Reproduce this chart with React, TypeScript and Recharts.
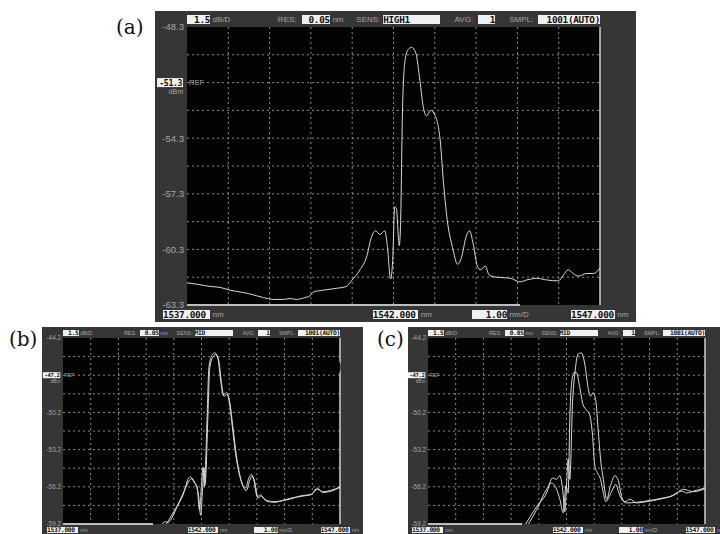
import React from "react";
import { LineChart, Line, XAxis, YAxis, CartesianGrid, ReferenceLine } from "recharts";

// (a) single sweep, SENS HIGH1
const nmA = [
  1537.0, 1537.3, 1537.56, 1537.8, 1538.04, 1538.3, 1538.52, 1538.85, 1539.1, 1539.33, 1539.5, 1539.65,
  1539.85, 1539.98, 1540.06, 1540.3, 1540.62, 1540.86, 1540.98, 1541.19, 1541.35, 1541.47, 1541.57, 1541.67,
  1541.79, 1541.85, 1541.93, 1541.98, 1542.03, 1542.07, 1542.14, 1542.17, 1542.22, 1542.28, 1542.36, 1542.44,
  1542.54, 1542.64, 1542.72, 1542.8, 1542.9, 1543.0, 1543.13, 1543.21, 1543.3, 1543.43, 1543.55, 1543.65,
  1543.76, 1543.84, 1543.93, 1544.03, 1544.11, 1544.22, 1544.32, 1544.5, 1544.82, 1545.06, 1545.22, 1545.47,
  1545.71, 1545.99, 1546.11, 1546.23, 1546.35, 1546.47, 1546.68, 1546.84, 1547.0,
];
const dbmA = [
  -62.1, -62.2, -62.3, -62.35, -62.5, -62.6, -62.7, -62.9, -63.0, -63.0, -62.95, -63.0,
  -62.9, -62.8, -62.6, -62.5, -62.4, -62.3, -62.0, -61.4, -60.7, -59.6, -59.3, -59.5,
  -59.3, -60.1, -61.9, -60.9, -58.0, -58.1, -60.1, -59.0, -52.6, -50.1, -49.5, -49.4,
  -49.7, -51.2, -52.6, -53.1, -52.8, -53.05, -54.4, -56.7, -58.7, -60.2, -61.1, -60.7,
  -59.6, -59.3, -60.0, -61.2, -61.4, -61.2, -61.7, -61.8, -61.85, -62.05, -61.95, -61.86,
  -61.95, -62.0, -61.7, -61.4, -61.6, -61.74, -61.6, -61.6, -61.3,
];

// (b) two sweeps, SENS MID
const nmB1 = [
  1540.55, 1540.7, 1540.8, 1540.88, 1541.12, 1541.36, 1541.51, 1541.6, 1541.72, 1541.84, 1541.93, 1542.0,
  1542.06, 1542.11, 1542.14, 1542.2, 1542.27, 1542.39, 1542.48, 1542.59, 1542.69, 1542.78, 1542.9, 1542.99,
  1543.11, 1543.23, 1543.39, 1543.59, 1543.71, 1543.8, 1543.89, 1544.01, 1544.13, 1544.31, 1544.61, 1544.98,
  1545.34, 1545.64, 1545.94, 1546.18, 1546.36, 1546.66, 1547.0,
];
const dbmB1 = [
  -59.3, -59.0, -59.1, -58.9, -57.8, -56.7, -55.6, -55.4, -55.8, -56.2, -58.1, -56.05,
  -54.6, -56.2, -54.85, -50.8, -46.5, -45.55, -45.4, -45.8, -47.6, -48.8, -48.6, -49.2,
  -51.3, -53.5, -55.4, -56.3, -55.5, -55.2, -55.65, -57.0, -56.85, -57.26, -57.4, -57.3,
  -57.1, -56.9, -56.85, -56.3, -56.6, -56.5, -56.2,
];
const nmB2 = [
  1540.7, 1540.95, 1541.2, 1541.42, 1541.56, 1541.66, 1541.78, 1541.9, 1541.97, 1542.04, 1542.09, 1542.13,
  1542.17, 1542.23, 1542.3, 1542.42, 1542.51, 1542.62, 1542.72, 1542.81, 1542.93, 1543.02, 1543.14, 1543.26,
  1543.42, 1543.62, 1543.74, 1543.83, 1543.92, 1544.04, 1544.16, 1544.34, 1544.64, 1545.0, 1545.36, 1545.66,
  1545.96, 1546.2, 1546.38, 1546.68, 1547.0,
];
const dbmB2 = [
  -59.3, -58.4, -57.4, -56.3, -55.7, -55.55, -56.0, -57.0, -58.5, -56.4, -54.7, -56.0,
  -54.6, -50.5, -46.6, -45.7, -45.55, -46.0, -47.8, -48.9, -48.75, -49.4, -51.5, -53.7,
  -55.6, -56.5, -55.7, -55.35, -55.8, -57.1, -56.95, -57.35, -57.45, -57.25, -57.05, -56.95,
  -56.8, -56.4, -56.65, -56.55, -56.25,
];

// (c) two sweeps, SENS MID
const nmC1 = [
  1540.5, 1540.92, 1541.28, 1541.49, 1541.64, 1541.76, 1541.86, 1541.94, 1542.0, 1542.06, 1542.12, 1542.22,
  1542.3, 1542.42, 1542.54, 1542.66, 1542.78, 1542.87, 1542.96, 1543.06, 1543.14, 1543.23, 1543.33, 1543.45,
  1543.59, 1543.75, 1543.87, 1543.99, 1544.11, 1544.29, 1544.53, 1544.89, 1545.37, 1545.73, 1546.16, 1546.34,
  1546.58, 1547.0,
];
const dbmC1 = [
  -59.3, -57.8, -56.7, -55.5, -55.6, -55.3, -56.4, -58.2, -56.1, -53.96, -55.6, -49.3,
  -47.1, -45.5, -45.4, -46.3, -48.2, -48.9, -48.6, -49.3, -51.5, -53.96, -55.6, -57.2,
  -56.1, -55.3, -55.7, -57.0, -57.4, -57.2, -57.5, -57.4, -57.2, -57.0, -56.55, -56.7,
  -56.55, -56.3,
];
const nmC2 = [
  1540.6, 1540.92, 1541.28, 1541.46, 1541.64, 1541.76, 1541.88, 1541.98, 1542.06, 1542.12, 1542.18, 1542.27,
  1542.36, 1542.48, 1542.6, 1542.72, 1542.84, 1542.94, 1543.02, 1543.11, 1543.23, 1543.33, 1543.42, 1543.54,
  1543.69, 1543.78, 1543.87, 1543.99, 1544.17, 1544.53, 1545.01, 1545.49, 1545.86, 1546.22, 1546.58, 1547.0,
];
const dbmC2 = [
  -59.3, -58.05, -56.4, -55.9, -56.4, -57.2, -58.3, -56.1, -56.7, -50.7, -47.96, -47.0,
  -47.0, -48.2, -49.6, -50.0, -50.4, -52.05, -54.5, -55.05, -55.6, -56.7, -57.4, -57.0,
  -56.3, -56.0, -56.55, -57.2, -57.5, -57.45, -57.3, -57.1, -56.9, -56.4, -56.6, -56.35,
];

const xTicks = [1537, 1538, 1539, 1540, 1541, 1542, 1543, 1544, 1545, 1546, 1547];
const yTicksA = [-63.3, -61.8, -60.3, -58.8, -57.3, -55.8, -54.3, -52.8, -51.3, -49.8, -48.3];
const yTicksBC = [-59.2, -57.7, -56.2, -54.7, -53.2, -51.7, -50.2, -48.7, -47.2, -45.7, -44.2];

type Rect = { x: number; y: number; w: number; h: number };
type Trace = { nm: number[]; dbm: number[] };

const GRAY = "#a6a6a6";
const BOXBG = "#f0f0f0";
const MONO = '"DejaVu Sans Mono", monospace';
const SANS = '"Liberation Sans", Arial, sans-serif';

function Box({ x0, x1, cy, h, fs, text, align }: { x0: number; x1: number; cy: number; h: number; fs: number; text: string; align: "left" | "right" }) {
  return (
    <div
      style={{
        position: "absolute", left: x0, top: cy - h / 2, width: x1 - x0, height: h, background: BOXBG,
        color: "#111", fontFamily: MONO, fontWeight: "bold", fontSize: fs, lineHeight: `${h}px`,
        textAlign: align, whiteSpace: "nowrap", overflow: "hidden", letterSpacing: -0.3,
      }}
    >
      {text}
    </div>
  );
}

function Lbl({ x, cy, fs, text }: { x: number; cy: number; fs: number; text: string }) {
  return (
    <div
      style={{
        position: "absolute", left: x, top: cy - fs * 0.6, fontSize: fs, lineHeight: `${fs * 1.2}px`,
        color: GRAY, fontFamily: SANS, whiteSpace: "nowrap",
      }}
    >
      {text}
    </div>
  );
}

function OsaPanel({ frame, plot, yTicks, refVal, traces, sens, scaleBar }: {
  frame: Rect; plot: Rect; yTicks: number[]; refVal: number; traces: Trace[]; sens: string; scaleBar: number;
}) {
  const s = plot.w / 413;
  const m = {
    top: plot.y - frame.y,
    left: plot.x - frame.x,
    right: frame.x + frame.w - plot.x - plot.w,
    bottom: frame.y + frame.h - plot.y - plot.h,
  };
  const fx = (f: number) => m.left + f * plot.w;
  const hy = m.top - 7.2 * s;
  const by = m.top + plot.h + 9.5 * s;
  const bh = 9 * s;
  const bfs = 9.4 * s;
  const lfs = 8 * s;

  const renderTick = (props: any) => {
    const v = props.payload.value;
    const idx = yTicks.findIndex((t) => Math.abs(t - v) < 0.001);
    const y = props.y;
    if (idx % 2 !== 0) return <g />;
    if (Math.abs(v - refVal) < 0.01) {
      return (
        <g>
          <rect x={m.left - 30 * s} y={y - 4.5 * s} width={26 * s} height={9 * s} fill={BOXBG} />
          <text x={m.left - 5 * s} y={y} dy="0.36em" textAnchor="end" fontSize={8.2 * s} fontWeight="bold"
            fontFamily={MONO} fill="#111" letterSpacing={-0.4 * s}>
            {v.toFixed(1)}
          </text>
          <text x={m.left - 4 * s} y={y + 8.5 * s} dy="0.36em" textAnchor="end" fontSize={7 * s} fontFamily={SANS} fill={GRAY}>dBm</text>
          <text x={m.left + 2 * s} y={y} dy="0.36em" fontSize={7.5 * s} fontFamily={SANS} fill={GRAY}>REF</text>
        </g>
      );
    }
    return (
      <text x={m.left - 3 * s} y={y} dy="0.36em" textAnchor="end" fontSize={9.5 * s} fontFamily={SANS} fill={GRAY}>
        {v.toFixed(1)}
      </text>
    );
  };

  return (
    <div style={{ position: "absolute", left: frame.x, top: frame.y, width: frame.w, height: frame.h, background: "#363636" }}>
      <LineChart width={frame.w} height={frame.h} margin={{ top: m.top, right: m.right, left: 0, bottom: 0 }}>
        <CartesianGrid
          stroke="#8c8c8c"
          strokeDasharray="2 3"
          fill="#030303"
          fillOpacity={1}
          horizontalValues={yTicks.slice(1, -1)}
          verticalValues={xTicks.slice(1, -1)}
        />
        <XAxis type="number" dataKey="nm" domain={[xTicks[0], xTicks[xTicks.length - 1]]} ticks={xTicks} interval={0} allowDataOverflow
          height={m.bottom} tick={() => <g />} axisLine={false} tickLine={false} />
        <YAxis type="number" domain={[yTicks[0], yTicks[yTicks.length - 1]]} ticks={yTicks} interval={0} allowDataOverflow
          width={m.left} axisLine={false} tickLine={false} tick={renderTick} />
        <ReferenceLine x={xTicks[xTicks.length - 1]} stroke="#cfcfcf" strokeWidth={1.5} />
        {traces.map((t, k) => (
          <Line
            key={k}
            data={t.nm.map((n, i) => ({ nm: n, db: t.dbm[i] }))}
            dataKey="db"
            type="monotone"
            stroke="#dadada"
            strokeWidth={1}
            dot={false}
            isAnimationActive={false}
          />
        ))}
      </LineChart>
      {/* scan position bar */}
      <div style={{ position: "absolute", left: m.left, top: m.top + plot.h - 1.5, width: scaleBar * plot.w, height: 2, background: "#bdbdbd" }} />
      {/* header */}
      <Box x0={fx(0)} x1={fx(0.056)} cy={hy} h={bh} fs={bfs} text="1.5" align="right" />
      <Lbl x={fx(0.062)} cy={hy} fs={lfs} text="dB/D" />
      <Lbl x={fx(0.22)} cy={hy} fs={lfs} text="RES:" />
      <Box x0={fx(0.278)} x1={fx(0.346)} cy={hy} h={bh} fs={bfs} text="0.05" align="right" />
      <Lbl x={fx(0.352)} cy={hy} fs={lfs} text="nm" />
      <Lbl x={fx(0.41)} cy={hy} fs={lfs} text="SENS:" />
      <Box x0={fx(0.475)} x1={fx(0.613)} cy={hy} h={bh} fs={bfs} text={sens} align="left" />
      <Lbl x={fx(0.648)} cy={hy} fs={lfs} text="AVG:" />
      <Box x0={fx(0.704)} x1={fx(0.746)} cy={hy} h={bh} fs={bfs} text="1" align="right" />
      <Lbl x={fx(0.78)} cy={hy} fs={lfs} text="SMPL:" />
      <Box x0={fx(0.85)} x1={fx(1.0)} cy={hy} h={bh} fs={bfs} text="1001(AUTO)" align="right" />
      {/* footer */}
      <Box x0={fx(-0.058)} x1={fx(0.056)} cy={by} h={bh} fs={bfs} text="1537.000" align="left" />
      <Lbl x={fx(0.062)} cy={by} fs={lfs} text="nm" />
      <Box x0={fx(0.45)} x1={fx(0.56)} cy={by} h={bh} fs={bfs} text="1542.000" align="left" />
      <Lbl x={fx(0.566)} cy={by} fs={lfs} text="nm" />
      <Box x0={fx(0.69)} x1={fx(0.775)} cy={by} h={bh} fs={bfs} text="1.00" align="right" />
      <Lbl x={fx(0.781)} cy={by} fs={lfs} text="nm/D" />
      <Box x0={fx(0.93)} x1={fx(1.036)} cy={by} h={bh} fs={bfs} text="1547.000" align="left" />
      <Lbl x={fx(1.042)} cy={by} fs={lfs} text="nm" />
    </div>
  );
}

const tagStyle: React.CSSProperties = {
  position: "absolute", fontFamily: '"DejaVu Serif", "Liberation Serif", serif', fontSize: 20, lineHeight: "24px", color: "#111",
};

export default function App() {
  return (
    <div style={{ position: "absolute", left: 0, top: 0, width: 720, height: 534, background: "#fff", overflow: "hidden" }}>
      <OsaPanel
        frame={{ x: 155, y: 11, w: 481, h: 311 }}
        plot={{ x: 187, y: 27, w: 413, h: 278 }}
        yTicks={yTicksA}
        refVal={-51.3}
        traces={[{ nm: nmA, dbm: dbmA }]}
        sens="HIGH1"
        scaleBar={0.806}
      />
      <OsaPanel
        frame={{ x: 42, y: 327, w: 321, h: 207 }}
        plot={{ x: 63, y: 338, w: 277, h: 186 }}
        yTicks={yTicksBC}
        refVal={-47.2}
        traces={[{ nm: nmB1, dbm: dbmB1 }, { nm: nmB2, dbm: dbmB2 }]}
        sens="MID"
        scaleBar={0.325}
      />
      <OsaPanel
        frame={{ x: 408, y: 327, w: 312, h: 207 }}
        plot={{ x: 428, y: 338, w: 277, h: 186 }}
        yTicks={yTicksBC}
        refVal={-47.2}
        traces={[{ nm: nmC1, dbm: dbmC1 }, { nm: nmC2, dbm: dbmC2 }]}
        sens="MID"
        scaleBar={0.34}
      />
      <div style={{ ...tagStyle, left: 116, top: 15 }}>(a)</div>
      <div style={{ ...tagStyle, left: 9, top: 327 }}>(b)</div>
      <div style={{ ...tagStyle, left: 377, top: 327 }}>(c)</div>
      <div style={{ position: "absolute", left: 336, top: 358, fontFamily: "DejaVu Sans", fontSize: 15, lineHeight: "18px", color: "#000" }}>)</div>
    </div>
  );
}
